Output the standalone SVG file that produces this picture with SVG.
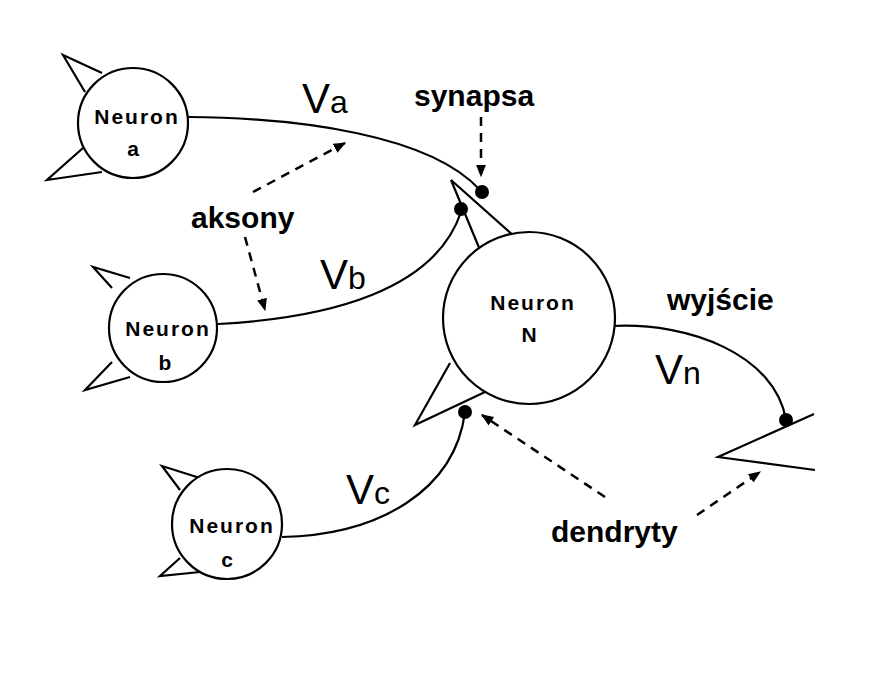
<svg xmlns="http://www.w3.org/2000/svg" width="896" height="673" viewBox="0 0 896 673">
<style>
.l{fill:none;stroke:#000;stroke-width:2.2}
.c{fill:#fff;stroke:#000;stroke-width:2.2}
.d{fill:none;stroke:#000;stroke-width:2.5;stroke-dasharray:9 7}
.t{font-family:"Liberation Sans",Arial,sans-serif;fill:#000}
.w{font-family:"Liberation Sans",Arial,sans-serif;font-weight:bold;font-size:30px;fill:#000}
.n{font-family:"Liberation Sans",Arial,sans-serif;font-weight:bold;font-size:21px;letter-spacing:2px;text-anchor:middle}
</style>
<defs><marker id="ar" viewBox="0 0 10 10" refX="9" refY="5" markerWidth="5" markerHeight="5" orient="auto"><path d="M0,1 L10,5 L0,9 Z"/></marker></defs>
<rect width="896" height="673" fill="#fff"/>
<g id="connectors">
<path class="l" d="M188,117 C300,118 430,135 480,190"/>
<path class="l" d="M218,324 C330,318 435,290 461,212"/>
<path class="l" d="M282,537 C380,535 455,490 465,412"/>
<path class="l" d="M612,326 C690,322 775,355 786,420"/>
<path class="d" d="M481,117 L481,176" marker-end="url(#ar)"/>
<path class="d" d="M253,192 L345,143" marker-end="url(#ar)"/>
<path class="d" d="M245,237 L265,310" marker-end="url(#ar)"/>
<path class="d" d="M605,497 L482,415" marker-end="url(#ar)"/>
<path class="d" d="M697,515 L760,472" marker-end="url(#ar)"/>
</g>
<g id="neuron-a">
<polyline class="l" points="102,73 63,55 85,92"/>
<polyline class="l" points="83,148 47,180 102,172"/>
<circle class="c" cx="133" cy="123" r="55"/>
<text class="n" x="137" y="124">Neuron</text><text class="n" x="134" y="156" font-size="16">a</text>
</g>
<g id="neuron-b">
<polyline class="l" points="130,278 93,267 112,288"/>
<polyline class="l" points="112,362 85,390 130,377"/>
<circle class="c" cx="163" cy="328" r="54"/>
<text class="n" x="168" y="336">Neuron</text><text class="n" x="166" y="370">b</text>
</g>
<g id="neuron-c">
<polyline class="l" points="200,478 162,466 180,490"/>
<polyline class="l" points="180,558 160,576 200,572"/>
<circle class="c" cx="227" cy="524" r="55"/>
<text class="n" x="232" y="533">Neuron</text><text class="n" x="228" y="567" font-size="16">c</text>
</g>
<g id="neuron-N">
<polyline class="l" points="480,250 451,180 515,237"/>
<polyline class="l" points="450,363 415,425 485,392"/>
<circle class="c" cx="529" cy="318" r="86"/>
<text class="n" x="533" y="310">Neuron</text><text class="n" x="530" y="342">N</text>
</g>
<g id="output-dendrite">
<polyline class="l" points="814,414 718,457 815,470"/>
</g>
<g id="synapses">
<circle cx="482" cy="192" r="7"/><circle cx="461" cy="209" r="7"/><circle cx="465" cy="412" r="7"/><circle cx="786" cy="420" r="7"/>
</g>
<g id="labels">
<text class="t" x="302" y="113" font-size="42">V<tspan font-size="32">a</tspan></text>
<text class="t" x="320" y="289" font-size="42">V<tspan font-size="32">b</tspan></text>
<text class="t" x="346" y="504" font-size="42">V<tspan font-size="32">c</tspan></text>
<text class="t" x="655" y="384" font-size="42">V<tspan font-size="32">n</tspan></text>
<text class="w" x="414" y="106">synapsa</text>
<text class="w" x="191" y="228">aksony</text>
<text class="w" x="667" y="310">wyjście</text>
<text class="w" x="551" y="542">dendryty</text>
</g>
</svg>
